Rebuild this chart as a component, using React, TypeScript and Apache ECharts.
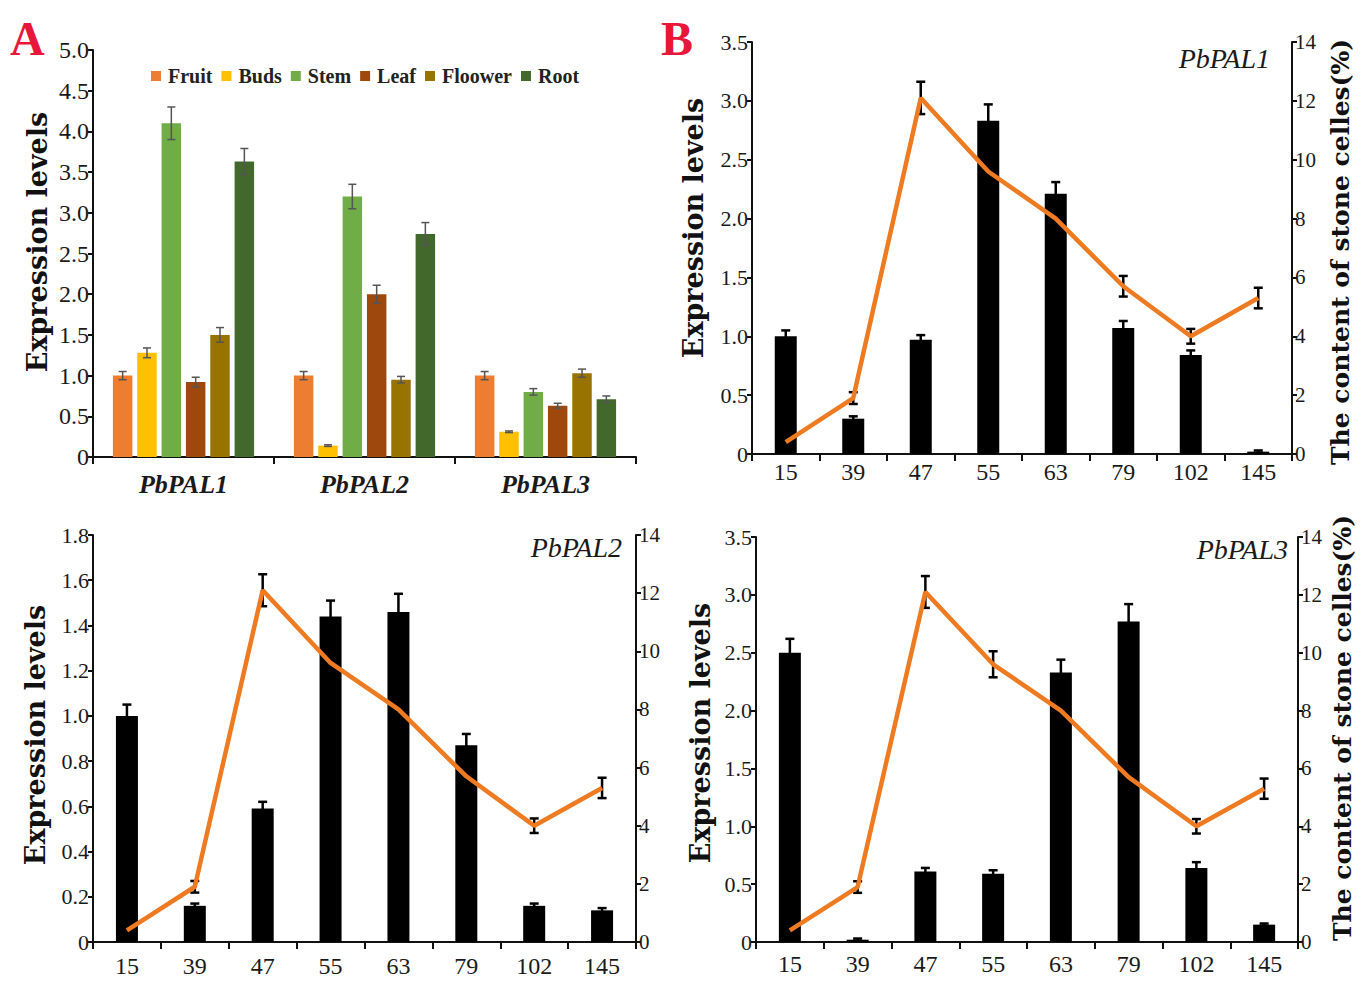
import React, { useEffect, useRef } from "react";
import * as echarts from "echarts";

// ---------- Panel A data ----------
const genes = ["PbPAL1", "PbPAL2", "PbPAL3"];
const tissues = ["Fruit", "Buds", "Stem", "Leaf", "Floower", "Root"];
const tissueColors = ["#ED7D31", "#FFC000", "#70AD47", "#9E480E", "#997300", "#43682B"];
const fruitExpr = [1.0, 1.0, 1.0];
const budsExpr = [1.28, 0.14, 0.31];
const stemExpr = [4.1, 3.2, 0.8];
const leafExpr = [0.92, 2.0, 0.63];
const flowerExpr = [1.5, 0.95, 1.03];
const rootExpr = [3.63, 2.74, 0.71];
const fruitErr = [0.05, 0.05, 0.05];
const budsErr = [0.06, 0.01, 0.01];
const stemErr = [0.2, 0.15, 0.04];
const leafErr = [0.06, 0.11, 0.03];
const flowerErr = [0.09, 0.04, 0.05];
const rootErr = [0.16, 0.14, 0.04];

// ---------- Panel B data ----------
const days = ["15", "39", "47", "55", "63", "79", "102", "145"];
const stoneCells = [0.4, 1.9, 12.1, 9.6, 8.0, 5.7, 4.0, 5.3];
const stoneCellsErr = [0.1, 0.2, 0.55, 0.45, 0.3, 0.35, 0.25, 0.35];
const pal1Expr = [1.0, 0.3, 0.97, 2.83, 2.21, 1.07, 0.84, 0.02];
const pal1Err = [0.05, 0.02, 0.04, 0.14, 0.1, 0.06, 0.04, 0.01];
const pal2Expr = [1.0, 0.16, 0.59, 1.44, 1.46, 0.87, 0.16, 0.14];
const pal2Err = [0.05, 0.01, 0.03, 0.07, 0.08, 0.05, 0.01, 0.01];
const pal3Expr = [2.5, 0.02, 0.61, 0.59, 2.33, 2.77, 0.64, 0.15];
const pal3Err = [0.12, 0.01, 0.03, 0.03, 0.11, 0.15, 0.05, 0.01];

const SERIF = "Liberation Serif";
const TITLE_FONT = "DejaVu Serif";
const LINE_COLOR = "#EE7A22";

const A_CAT_GAP = 0.22;
const A_BAR_GAP = 0.25;

function errBarShape(cx: number, yTop: number, yBot: number, cap: number, color: string, lw: number) {
  return {
    type: "group",
    children: [
      { type: "line", shape: { x1: cx, y1: yTop, x2: cx, y2: yBot }, style: { stroke: color, lineWidth: lw } },
      { type: "line", shape: { x1: cx - cap / 2, y1: yTop, x2: cx + cap / 2, y2: yTop }, style: { stroke: color, lineWidth: lw } },
      { type: "line", shape: { x1: cx - cap / 2, y1: yBot, x2: cx + cap / 2, y2: yBot }, style: { stroke: color, lineWidth: lw } },
    ],
  };
}

function vText(text: string, x: number, y: number, size: number) {
  return {
    type: "text",
    x,
    y,
    rotation: Math.PI / 2,
    style: {
      text,
      font: `bold ${size}px "${TITLE_FONT}"`,
      fill: "#111",
      textAlign: "center",
      textVerticalAlign: "middle",
      align: "center",
      verticalAlign: "middle",
    },
  };
}

export default function App() {
  const ref = useRef<HTMLDivElement>(null);

  useEffect(() => {
    document.body.style.margin = "0";
    if (!ref.current) return;
    const chart = echarts.init(ref.current, undefined, { renderer: "svg" });

    const aValues = [fruitExpr, budsExpr, stemExpr, leafExpr, flowerExpr, rootExpr];
    const aErrors = [fruitErr, budsErr, stemErr, leafErr, flowerErr, rootErr];

    const aErrData: number[][] = [];
    aValues.forEach((arr, s) => arr.forEach((v, c) => aErrData.push([c, v, s, aErrors[s][c]])));

    const axisLineStyle = { color: "#111", width: 2 };
    const tickLabel = (size: number) => ({ fontFamily: SERIF, fontSize: size, color: "#1a1a1a" });
    const fmt1 = (v: number) => (v === 0 ? "0" : v.toFixed(1));

    const valueAxis = (gridIndex: number, max: number, interval: number, size = 22) => ({
      type: "value",
      gridIndex,
      min: 0,
      max,
      interval,
      splitLine: { show: false },
      axisLine: { show: true, lineStyle: axisLineStyle },
      axisTick: { show: true, length: 5, lineStyle: axisLineStyle },
      axisLabel: { formatter: fmt1, margin: 4, ...tickLabel(size) },
    });

    const rightAxis = (gridIndex: number) => ({
      type: "value",
      gridIndex,
      position: "right",
      min: 0,
      max: 14,
      interval: 2,
      splitLine: { show: false },
      axisLine: { show: true, lineStyle: axisLineStyle },
      axisTick: { show: true, length: 5, lineStyle: axisLineStyle },
      axisLabel: { margin: 3, ...tickLabel(21) },
    });

    const dayAxis = (gridIndex: number, margin: number) => ({
      type: "category",
      gridIndex,
      data: days,
      axisLine: { show: true, lineStyle: axisLineStyle },
      axisTick: { show: true, length: 7, lineStyle: axisLineStyle },
      axisLabel: { margin, ...tickLabel(24) },
    });

    const barErrRender = (params: any, api: any) => {
      const c = api.value(0);
      const v = api.value(1);
      const e = api.value(2);
      const cx = api.coord([c, v])[0];
      const yTop = api.coord([c, v + e])[1];
      const yBot = api.coord([c, Math.max(0, v - e)])[1];
      return errBarShape(cx, yTop, yBot, 9, "#000", 2.5);
    };

    const timePanel = (xi: number, yl: number, yr: number, vals: number[], errs: number[]) => [
      {
        type: "bar",
        xAxisIndex: xi,
        yAxisIndex: yl,
        data: vals,
        barWidth: 22,
        itemStyle: { color: "#000" },
        z: 2,
      },
      {
        type: "custom",
        xAxisIndex: xi,
        yAxisIndex: yl,
        data: vals.map((v, i) => [i, v, errs[i]]),
        encode: { x: 0, y: 1 },
        renderItem: barErrRender,
        z: 3,
      },
      {
        type: "custom",
        xAxisIndex: xi,
        yAxisIndex: yr,
        data: stoneCells.map((v, i) => [i, v, stoneCellsErr[i]]),
        encode: { x: 0, y: 1 },
        renderItem: barErrRender,
        z: 3,
      },
      {
        type: "line",
        xAxisIndex: xi,
        yAxisIndex: yr,
        data: stoneCells,
        symbol: "none",
        lineStyle: { color: LINE_COLOR, width: 4.5 },
        itemStyle: { color: LINE_COLOR },
        z: 5,
      },
    ];

    const option: any = {
      animation: false,
      backgroundColor: "#fff",
      textStyle: { fontFamily: SERIF },
      grid: [
        { left: 93, top: 50, width: 543, height: 407 },
        { left: 752, top: 42, width: 540, height: 412 },
        { left: 93, top: 535, width: 543, height: 407 },
        { left: 756, top: 537, width: 542, height: 405 },
      ],
      legend: {
        data: tissues,
        left: 146,
        top: 61,
        icon: "rect",
        itemWidth: 10,
        itemHeight: 10,
        itemGap: 9,
        textStyle: { fontFamily: SERIF, fontWeight: "bold", fontSize: 20, color: "#222", padding: [0, 0, 0, 2] },
      },
      xAxis: [
        {
          type: "category",
          gridIndex: 0,
          data: genes,
          axisLine: { show: true, lineStyle: axisLineStyle },
          axisTick: { show: true, length: 7, lineStyle: axisLineStyle },
          axisLabel: {
            margin: 14,
            fontFamily: SERIF,
            fontSize: 26,
            fontWeight: "bold",
            fontStyle: "italic",
            color: "#1a1a1a",
          },
        },
        dayAxis(1, 6),
        dayAxis(2, 12),
        dayAxis(3, 10),
      ],
      yAxis: [
        valueAxis(0, 5, 0.5, 24),
        valueAxis(1, 3.5, 0.5),
        rightAxis(1),
        valueAxis(2, 1.8, 0.2),
        rightAxis(2),
        valueAxis(3, 3.5, 0.5),
        rightAxis(3),
      ],
      series: [
        ...tissues.map((name, s) => ({
          type: "bar",
          name,
          xAxisIndex: 0,
          yAxisIndex: 0,
          data: aValues[s],
          barGap: A_BAR_GAP * 100 + "%",
          barCategoryGap: A_CAT_GAP * 100 + "%",
          itemStyle: { color: tissueColors[s] },
          z: 2,
        })),
        {
          type: "custom",
          xAxisIndex: 0,
          yAxisIndex: 0,
          data: aErrData,
          encode: { x: 0, y: 1 },
          z: 3,
          renderItem: (params: any, api: any) => {
            const c = api.value(0);
            const v = api.value(1);
            const s = api.value(2);
            const e = api.value(3);
            const n = tissues.length;
            const band = api.size([1, 0])[0];
            const remained = band * (1 - A_CAT_GAP);
            const bw = remained / (n + (n - 1) * A_BAR_GAP);
            const cx = api.coord([c, v])[0] - remained / 2 + s * bw * (1 + A_BAR_GAP) + bw / 2;
            const yTop = api.coord([c, v + e])[1];
            const yBot = api.coord([c, v - e])[1];
            return errBarShape(cx, yTop, yBot, 8, "#555", 1.5);
          },
        },
        ...timePanel(1, 1, 2, pal1Expr, pal1Err),
        ...timePanel(2, 3, 4, pal2Expr, pal2Err),
        ...timePanel(3, 5, 6, pal3Expr, pal3Err),
      ],
      graphic: [
        { type: "text", left: 10, top: 14, style: { text: "A", font: `bold 48px "${SERIF}"`, fill: "#E8173A" } },
        { type: "text", left: 661, top: 14, style: { text: "B", font: `bold 48px "${SERIF}"`, fill: "#E8173A" } },
        {
          type: "text",
          x: 1270,
          y: 44,
          style: { text: "PbPAL1", font: `italic 28px "${SERIF}"`, fill: "#1a1a1a", textAlign: "right" },
        },
        {
          type: "text",
          x: 622,
          y: 533,
          style: { text: "PbPAL2", font: `italic 28px "${SERIF}"`, fill: "#1a1a1a", textAlign: "right" },
        },
        {
          type: "text",
          x: 1288,
          y: 535,
          style: { text: "PbPAL3", font: `italic 28px "${SERIF}"`, fill: "#1a1a1a", textAlign: "right" },
        },
        vText("Expression levels", 37, 242, 27),
        vText("Expression levels", 693, 228, 27),
        vText("Expression levels", 35, 735, 27),
        vText("Expression levels", 700, 733, 27),
        vText("The content of stone celles(%)", 1340, 252, 25),
        vText("The content of stone celles(%)", 1342, 728, 25),
      ],
    };

    chart.setOption(option);
    return () => chart.dispose();
  }, []);

  return <div ref={ref} style={{ width: 1364, height: 983 }} />;
}
